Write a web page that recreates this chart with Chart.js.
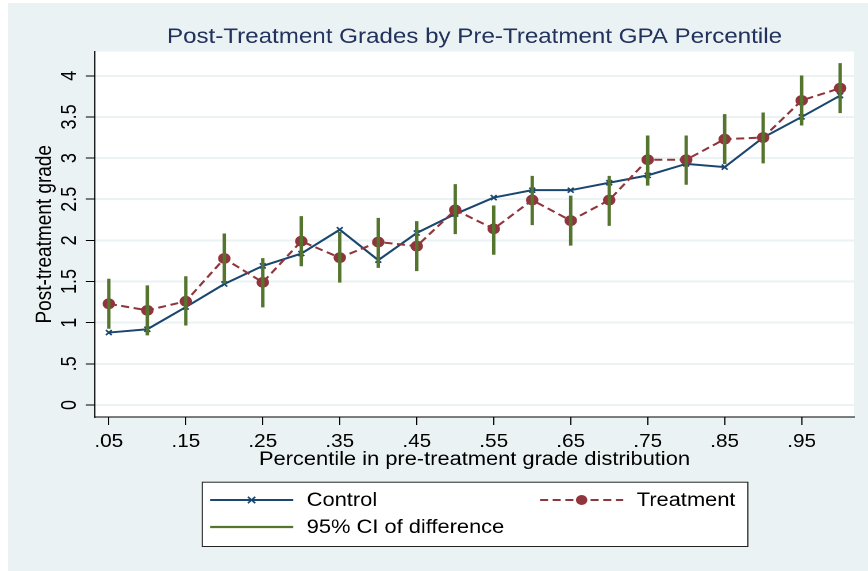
<!DOCTYPE html>
<html>
<head>
<meta charset="utf-8">
<script src="https://cdn.jsdelivr.net/npm/chart.js@4.4.1/dist/chart.umd.min.js"></script>
<style>
  html, body { margin: 0; padding: 0; background: #ffffff; overflow: hidden; }
  #wrap { position: absolute; left: 0; top: 0; width: 755px; height: 571px; transform: scaleX(1.1497); transform-origin: 0 0; }
  canvas { display: block; }
</style>
</head>
<body>
<div id="wrap"><canvas id="c" width="755" height="571"></canvas></div>
<script>
// ---- data ----
const percentiles = [0.05, 0.10, 0.15, 0.20, 0.25, 0.30, 0.35, 0.40, 0.45, 0.50,
                     0.55, 0.60, 0.65, 0.70, 0.75, 0.80, 0.85, 0.90, 0.95, 1.00];
const controlGrades = [0.88, 0.92, 1.19, 1.47, 1.69, 1.84, 2.13, 1.76, 2.09, 2.32,
                       2.52, 2.61, 2.61, 2.70, 2.79, 2.93, 2.89, 3.25, 3.50, 3.76];
const treatmentGrades = [1.23, 1.15, 1.26, 1.78, 1.49, 1.99, 1.79, 1.98, 1.93, 2.37,
                         2.14, 2.49, 2.24, 2.49, 2.98, 2.98, 3.23, 3.25, 3.70, 3.85];
const ciLower = [0.93, 0.85, 0.97, 1.48, 1.19, 1.69, 1.49, 1.67, 1.63, 2.08,
                 1.83, 2.19, 1.94, 2.18, 2.67, 2.68, 2.93, 2.94, 3.40, 3.55];
const ciUpper = [1.53, 1.45, 1.56, 2.08, 1.78, 2.29, 2.10, 2.27, 2.23, 2.68,
                 2.42, 2.78, 2.54, 2.78, 3.27, 3.27, 3.53, 3.55, 4.00, 4.15];
const yTickValues = [0, 0.5, 1, 1.5, 2, 2.5, 3, 3.5, 4];
const yTickLabels = ['0', '.5', '1', '1.5', '2', '2.5', '3', '3.5', '4'];
const xTickValues = [0.05, 0.15, 0.25, 0.35, 0.45, 0.55, 0.65, 0.75, 0.85, 0.95];
const xTickLabels = ['.05', '.15', '.25', '.35', '.45', '.55', '.65', '.75', '.85', '.95'];
const seriesNames = ['Control', 'Treatment', '95% CI of difference'];
const chartTitle = 'Post-Treatment Grades by Pre-Treatment GPA Percentile';
const xTitle = 'Percentile in pre-treatment grade distribution';
const yTitle = 'Post-treatment grade';

// ---- styles ----
const NAVY = '#1A476F', MAROON = '#90353B', GREEN = '#55752F';
const BG = '#EAF2F3', TITLE_COLOR = '#22325d';
const FONT = "'Liberation Sans', Arial, Helvetica, sans-serif";

const panelPlugin = {
  id: 'panel',
  beforeDraw(chart) {
    const { ctx, width, height, chartArea } = chart;
    ctx.save();
    ctx.fillStyle = '#ffffff';
    ctx.fillRect(0, 0, width, height);
    ctx.fillStyle = BG;
    ctx.fillRect(7, 3, width - 7, height - 3);
    ctx.fillStyle = '#ffffff';
    ctx.fillRect(chartArea.left, chartArea.top, chartArea.right - chartArea.left, chartArea.bottom - chartArea.top);
    ctx.restore();
  },
  afterDraw(chart) {
    const { ctx, chartArea } = chart;
    ctx.save();
    // title
    ctx.font = '21px ' + FONT;
    ctx.fillStyle = TITLE_COLOR;
    ctx.textAlign = 'center';
    ctx.textBaseline = 'alphabetic';
    ctx.fillText(chartTitle, (chartArea.left + chartArea.right) / 2, 43);

    // legend box
    const bx = 175.4, by = 481.7, bw = 650 - 175.4, bh = 546 - 481.7;
    ctx.fillStyle = '#ffffff';
    ctx.fillRect(bx, by, bw, bh);
    ctx.strokeStyle = '#222';
    ctx.lineWidth = 1;
    ctx.strokeRect(bx + 0.5, by + 0.5, bw, bh);

    ctx.font = '19px ' + FONT;
    ctx.fillStyle = '#000';
    ctx.textAlign = 'left';
    ctx.textBaseline = 'middle';

    // Control
    const r1 = 500, r2 = 527;
    ctx.strokeStyle = NAVY; ctx.lineWidth = 2; ctx.setLineDash([]);
    ctx.beginPath(); ctx.moveTo(182.7, r1); ctx.lineTo(255.1, r1); ctx.stroke();
    ctx.lineWidth = 1.6;
    const mx = 218.8, m = 3.2;
    ctx.beginPath();
    ctx.moveTo(mx - m, r1 - m); ctx.lineTo(mx + m, r1 + m);
    ctx.moveTo(mx - m, r1 + m); ctx.lineTo(mx + m, r1 - m);
    ctx.stroke();
    ctx.fillText(seriesNames[0], 266.8, r1 + 1);

    // Treatment
    ctx.strokeStyle = MAROON; ctx.lineWidth = 2; ctx.setLineDash([7, 4]);
    ctx.beginPath(); ctx.moveTo(469.7, r1); ctx.lineTo(542.1, r1); ctx.stroke();
    ctx.setLineDash([]);
    ctx.fillStyle = MAROON;
    ctx.beginPath(); ctx.arc(505.9, r1, 5, 0, Math.PI * 2); ctx.fill();
    ctx.fillStyle = '#000';
    ctx.fillText(seriesNames[1], 553.8, r1 + 1);

    // CI
    ctx.strokeStyle = GREEN; ctx.lineWidth = 2.2;
    ctx.beginPath(); ctx.moveTo(182.7, r2); ctx.lineTo(255.1, r2); ctx.stroke();
    ctx.fillText(seriesNames[2], 266.8, r2 + 1);
    ctx.restore();
  }
};

const ciData = percentiles.map((p, i) => ({ x: p, y: [ciLower[i], ciUpper[i]] }));
const controlData = percentiles.map((p, i) => ({ x: p, y: controlGrades[i] }));
const treatmentData = percentiles.map((p, i) => ({ x: p, y: treatmentGrades[i] }));

new Chart(document.getElementById('c'), {
  type: 'line',
  data: {
    datasets: [
      {
        type: 'bar', label: seriesNames[2], data: ciData, order: 0,
        backgroundColor: GREEN, borderWidth: 0, barThickness: 2.3, grouped: false
      },
      {
        label: seriesNames[1], data: treatmentData, order: 1,
        borderColor: MAROON, backgroundColor: MAROON, borderWidth: 2, borderDash: [7, 4],
        pointStyle: 'circle', pointRadius: 5.4, pointBorderWidth: 0, pointBackgroundColor: MAROON,
        tension: 0, fill: false
      },
      {
        label: seriesNames[0], data: controlData, order: 2,
        borderColor: NAVY, backgroundColor: NAVY, borderWidth: 2,
        pointStyle: 'crossRot', pointRadius: 3.6, pointBorderWidth: 1.6, pointBorderColor: NAVY,
        tension: 0, fill: false
      }
    ]
  },
  options: {
    responsive: false,
    animation: false,
    devicePixelRatio: 2,
    layout: { padding: { left: 0, right: 12.2, top: 51.5, bottom: 99.6 } },
    plugins: { legend: { display: false }, title: { display: false }, tooltip: { enabled: false } },
    scales: {
      x: {
        type: 'linear', position: 'bottom', min: 0.032, max: 1.018, offset: false,
        afterBuildTicks: (s) => { s.ticks = xTickValues.map(v => ({ value: v })); },
        afterFit: (s) => { s.height = 54.4; },
        ticks: {
          autoSkip: false, maxRotation: 0, minRotation: 0, padding: 6, color: '#000',
          font: { family: FONT, size: 18 },
          callback: (v) => { const i = xTickValues.findIndex(t => Math.abs(t - v) < 1e-9); return i >= 0 ? xTickLabels[i] : ''; }
        },
        grid: { offset: false, drawOnChartArea: false, drawTicks: true, tickLength: 8, tickColor: '#000', tickWidth: 1 },
        border: { display: true, color: '#000', width: 1 },
        title: { display: true, text: xTitle, color: '#000', font: { family: FONT, size: 19 }, padding: { top: 0, bottom: 0 } }
      },
      y: {
        type: 'linear', position: 'left', min: -0.146, max: 4.295,
        afterBuildTicks: (s) => { s.ticks = yTickValues.map(v => ({ value: v })); },
        afterFit: (s) => { s.width = 82.6; },
        ticks: {
          autoSkip: false, minRotation: 90, maxRotation: 90, crossAlign: 'center', padding: 1, color: '#000',
          font: { family: FONT, size: 18 },
          callback: (v) => { const i = yTickValues.findIndex(t => Math.abs(t - v) < 1e-9); return i >= 0 ? yTickLabels[i] : ''; }
        },
        grid: { offset: false, color: BG, lineWidth: 2, drawTicks: true, tickLength: 8, tickColor: '#000', tickWidth: 1 },
        border: { display: true, color: '#000', width: 1 },
        title: { display: true, text: yTitle, color: '#000', font: { family: FONT, size: 19 }, padding: { top: 27.7, bottom: 0 } }
      }
    }
  },
  plugins: [panelPlugin]
});
</script>
</body>
</html>
